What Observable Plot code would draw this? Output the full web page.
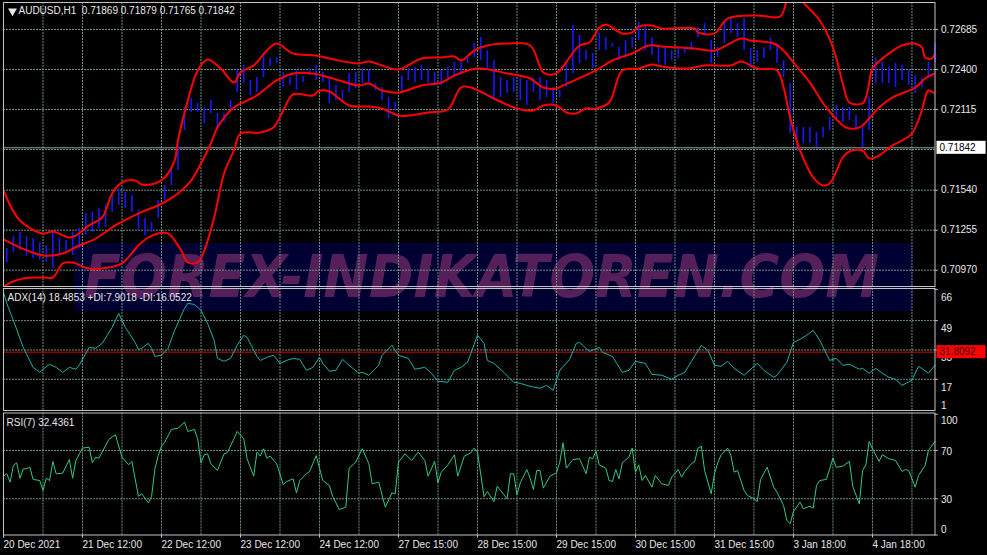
<!DOCTYPE html>
<html><head><meta charset="utf-8">
<script src="https://cdn.jsdelivr.net/npm/d3@7"></script>
<script src="https://cdn.jsdelivr.net/npm/@observablehq/plot@0.6"></script>
<style>
html,body{margin:0;padding:0;background:#000;}
#wrap{position:relative;width:987px;height:555px;overflow:hidden;background:#000;}
#wrap svg{position:absolute;left:0;top:0;}
</style></head><body><div id="wrap"></div>
<script>
// ---------------- DATA ----------------
const symbolHeader = "AUDUSD,H1\u00a0\u00a00.71869 0.71879 0.71765 0.71842";
const adxHeader = "ADX(14) 18.4853 +DI:7.9018 -DI:16.0522";
const rsiHeader = "RSI(7) 32.4361";
const lastClose = 0.71842;
const adxLevel = 31.8092;

const timeLabels = ["20 Dec 2021","21 Dec 12:00","22 Dec 12:00","23 Dec 12:00","24 Dec 12:00","27 Dec 15:00","28 Dec 15:00","29 Dec 15:00","30 Dec 15:00","31 Dec 15:00","3 Jan 18:00","4 Jan 18:00"];
const timeLabelBars = [0,24,48,72,96,120,144,168,192,216,240,264];
const gridBars = [12,24,36,48,60,72,84,96,108,120,132,144,156,168,180,192,204,216,228,240,252,264,276];

const priceTickLabels = [0.72685,0.72400,0.72115,0.71540,0.71255,0.70970];
const priceGridLevels = [0.72685,0.72400,0.72115,0.71830,0.71540,0.71255,0.70970];
const adxTickLabels = [66,49,33,17];
const adxBottomLabel = [1];
const adxGridLevels = [49,33,17];
const rsiTickLabels = [100,70,30,0];
const rsiGridLevels = [70,30];

// price bars: one bar every 2 hours (bar index 1,3,5,...,283)
const barHighs = [
0.71125,0.71210,0.71239,0.71210,0.71196,0.71167,0.71146,0.71239,0.71196,0.71182,
0.71239,0.71267,0.71374,0.71381,0.71410,0.71431,0.71517,0.71552,0.71524,0.71502,
0.71395,0.71338,0.71310,0.71467,0.71573,0.71695,0.71873,0.72129,0.72193,0.72158,
0.72122,0.72179,0.72086,0.72086,0.72179,0.72393,0.72428,0.72322,0.72343,0.72500,
0.72478,0.72485,0.72379,0.72343,0.72393,0.72350,0.72407,0.72428,0.72379,0.72343,
0.72286,0.72250,0.72371,0.72379,0.72407,0.72393,0.72300,0.72272,0.72200,0.72165,
0.72357,0.72407,0.72414,0.72428,0.72393,0.72379,0.72393,0.72414,0.72450,0.72450,
0.72485,0.72585,0.72628,0.72535,0.72464,0.72343,0.72322,0.72343,0.72336,0.72322,
0.72336,0.72343,0.72322,0.72272,0.72250,0.72464,0.72713,0.72642,0.72535,0.72514,
0.72656,0.72628,0.72585,0.72557,0.72607,0.72628,0.72735,0.72713,0.72628,0.72571,
0.72550,0.72535,0.72550,0.72557,0.72592,0.72699,0.72728,0.72607,0.72557,0.72735,
0.72763,0.72728,0.72763,0.72550,0.72535,0.72557,0.72628,0.72585,0.72464,0.72300,
0.71987,0.71987,0.71987,0.71951,0.71987,0.72058,0.72143,0.72129,0.72129,0.72072,
0.71987,0.72200,0.72478,0.72450,0.72414,0.72443,0.72428,0.72393,0.72357,0.72336,
0.72450,0.72585];
const barLows = [
0.71025,0.71096,0.71110,0.71068,0.71053,0.71039,0.71025,0.70982,0.71082,0.71096,
0.71075,0.71125,0.71217,0.71239,0.71267,0.71281,0.71381,0.71431,0.71410,0.71381,
0.71253,0.71217,0.71239,0.71338,0.71467,0.71573,0.71680,0.71965,0.72094,0.72094,
0.72015,0.72086,0.71965,0.72022,0.72108,0.72236,0.72300,0.72215,0.72236,0.72343,
0.72421,0.72443,0.72272,0.72286,0.72250,0.72307,0.72357,0.72322,0.72307,0.72158,
0.72179,0.72179,0.72236,0.72265,0.72300,0.72307,0.72250,0.72179,0.72051,0.72108,
0.72229,0.72322,0.72307,0.72322,0.72300,0.72300,0.72286,0.72336,0.72357,0.72379,
0.72443,0.72485,0.72464,0.72407,0.72179,0.72200,0.72229,0.72236,0.72179,0.72143,
0.72236,0.72179,0.72200,0.72158,0.72200,0.72272,0.72371,0.72443,0.72464,0.72407,
0.72535,0.72535,0.72557,0.72464,0.72485,0.72557,0.72607,0.72535,0.72500,0.72443,
0.72428,0.72464,0.72478,0.72514,0.72535,0.72628,0.72656,0.72443,0.72485,0.72585,
0.72656,0.72628,0.72535,0.72407,0.72450,0.72478,0.72535,0.72443,0.72343,0.71944,
0.71844,0.71873,0.71873,0.71844,0.71916,0.71965,0.72037,0.72022,0.72037,0.71980,
0.71844,0.71965,0.72300,0.72300,0.72300,0.72272,0.72322,0.72286,0.72229,0.72272,
0.72343,0.72450];

// Bollinger bands: [bar index, price]
const bandUpper = [[0,0.71538],[5,0.71324],[12,0.71232],[15,0.71246],[20,0.71203],[22,0.71217],[26,0.71289],[30,0.71346],[33,0.71517],[36,0.71595],[40,0.71609],[42,0.71581],[46,0.71588],[49,0.71631],[52,0.71752],[53,0.71894],[56,0.72179],[59,0.72393],[62,0.72471],[66,0.72407],[70,0.72307],[72,0.72379],[76,0.72429],[80,0.72535],[83,0.72585],[88,0.72514],[95,0.72500],[99,0.72478],[108,0.72443],[111,0.72457],[115,0.72429],[120,0.72400],[127,0.72478],[133,0.72486],[137,0.72493],[139,0.72464],[143,0.72535],[147,0.72571],[153,0.72585],[160,0.72571],[164,0.72379],[167,0.72364],[169,0.72393],[175,0.72571],[178,0.72592],[181,0.72699],[183,0.72721],[188,0.72657],[191,0.72664],[193,0.72706],[197,0.72714],[200,0.72692],[210,0.72692],[211,0.72664],[216,0.72657],[220,0.72763],[229,0.72785],[236,0.72778],[238,0.72892],[240,0.72963],[243,0.72877],[248,0.72749],[252,0.72557],[255,0.72300],[257,0.72165],[261,0.72158],[262,0.72200],[263,0.72300],[264,0.72407],[269,0.72514],[273,0.72571],[277,0.72585],[279,0.72557],[280,0.72486],[282,0.72478],[283,0.72514]];
const bandMiddle = [[0,0.71189],[5,0.71132],[12,0.71075],[18,0.71089],[23,0.71146],[27,0.71182],[35,0.71303],[43,0.71395],[47,0.71431],[53,0.71517],[57,0.71609],[60,0.71730],[63,0.71873],[65,0.71987],[70,0.72129],[74,0.72179],[77,0.72215],[83,0.72322],[88,0.72372],[94,0.72372],[99,0.72343],[108,0.72286],[111,0.72300],[115,0.72250],[120,0.72236],[127,0.72286],[133,0.72307],[137,0.72357],[144,0.72407],[153,0.72372],[160,0.72336],[164,0.72272],[168,0.72265],[170,0.72286],[180,0.72393],[185,0.72464],[191,0.72514],[196,0.72571],[200,0.72564],[210,0.72550],[216,0.72535],[224,0.72621],[227,0.72607],[234,0.72585],[237,0.72535],[240,0.72450],[245,0.72307],[250,0.72129],[256,0.71987],[260,0.71987],[263,0.72051],[266,0.72129],[270,0.72200],[277,0.72272],[280,0.72336],[283,0.72372]];
const bandLower = [[0,0.70847],[1,0.70868],[6,0.70911],[12,0.70918],[15,0.70918],[18,0.71018],[21,0.71025],[26,0.70982],[32,0.70989],[36,0.71018],[41,0.71146],[44,0.71203],[47,0.71232],[50,0.71232],[54,0.71110],[56,0.71025],[59,0.71025],[61,0.71110],[64,0.71346],[67,0.71659],[70,0.71823],[72,0.71944],[78,0.71951],[82,0.71987],[85,0.72108],[88,0.72222],[94,0.72215],[96,0.72250],[99,0.72243],[105,0.72144],[111,0.72136],[115,0.72122],[120,0.72072],[123,0.72072],[129,0.72094],[135,0.72115],[139,0.72272],[142,0.72272],[149,0.72193],[156,0.72122],[161,0.72108],[164,0.72144],[168,0.72144],[171,0.72094],[174,0.72087],[177,0.72122],[180,0.72122],[184,0.72165],[188,0.72393],[193,0.72407],[197,0.72436],[200,0.72421],[208,0.72407],[213,0.72429],[221,0.72429],[224,0.72457],[229,0.72407],[235,0.72393],[237,0.72272],[239,0.72058],[242,0.71823],[246,0.71631],[249,0.71574],[251,0.71588],[255,0.71773],[257,0.71816],[261,0.71823],[263,0.71766],[266,0.71787],[270,0.71858],[273,0.71894],[276,0.71944],[279,0.72108],[280,0.72200],[281,0.72250],[283,0.72229]];

// ADX: [bar index, value]
const adxValues = [[0,64.4],[1,58.4],[3,49.1],[6,34.4],[9,23.5],[11,20.8],[12,22.5],[14,25.2],[16,23.5],[18,20.8],[20,23.5],[22,22.5],[23,24.6],[26,34.4],[28,33.9],[30,36.6],[33,45.3],[35,52.9],[37,45.3],[40,37.1],[41,33.3],[42,33.9],[44,36.6],[45,33.9],[46,29.5],[48,30.1],[50,33.9],[52,43.7],[55,55.7],[56,58.4],[58,57.8],[60,54.6],[62,47.5],[64,38.2],[65,28.4],[67,26.8],[69,28.4],[71,35.5],[73,41],[74,39.9],[77,29.5],[78,27.3],[80,29],[82,30.1],[84,25.7],[86,27.3],[88,28.4],[90,27.9],[92,21.9],[94,23.5],[96,29],[97,25.7],[99,21.4],[101,21.9],[103,27.9],[105,24.6],[108,20.3],[109,20.8],[111,19.2],[114,24.6],[115,30.1],[118,35.5],[120,30.1],[123,28.4],[125,22.5],[128,23.5],[130,20.3],[132,15.9],[135,15.4],[137,21.9],[139,23.5],[141,26.3],[144,41],[146,36.6],[147,27.3],[149,25.7],[152,20.8],[155,15.4],[157,14.8],[160,13.2],[163,12.1],[165,13.7],[167,11],[169,21.9],[172,27.9],[174,36.6],[175,37.1],[178,32.2],[181,34.4],[182,31.7],[185,29.5],[188,20.8],[190,21.9],[192,26.8],[195,25.7],[197,19.7],[200,19.2],[203,17],[205,19.2],[207,20.8],[209,26.8],[212,35.5],[214,32.8],[216,24.6],[218,24.1],[220,26.8],[222,23],[225,19.2],[229,25.7],[231,21.9],[234,18.1],[235,19.2],[238,26.3],[240,37.1],[242,38.8],[244,41],[246,43.7],[248,38.2],[251,27.3],[253,28.4],[255,24.6],[257,25.2],[260,22.5],[261,23],[263,20.3],[265,23],[267,20.3],[269,18.1],[271,17],[273,13.7],[276,16.5],[278,24.1],[281,20.3],[283,24.6]];

// RSI: [bar index, value]
const rsiValues = [[0,48.7],[1,50.7],[2,43.7],[3,57.6],[4,59.8],[5,47],[6,54.8],[7,54.8],[8,56.1],[9,46],[11,45.1],[12,36.9],[13,47],[14,45.1],[15,60.9],[16,50.7],[18,51.2],[20,62.5],[21,47],[22,61.7],[24,71.9],[26,72.7],[27,59.8],[28,64.4],[29,63.6],[32,79.1],[34,83],[36,64.4],[38,58.1],[39,60.9],[41,32.1],[42,34.1],[44,26.7],[45,32.1],[46,54.8],[47,65.8],[48,73.5],[49,76.9],[51,87.4],[53,88.4],[55,93.4],[56,85.7],[58,87.4],[59,79.7],[60,59.8],[61,66.4],[62,67.2],[63,59],[65,53.4],[67,67.2],[68,68.1],[70,79.7],[71,85.7],[73,79.7],[74,63.1],[76,48.7],[77,68.6],[78,65.3],[79,71.4],[80,63.6],[81,65.3],[83,59],[85,41.6],[86,44.3],[88,46.5],[89,34.9],[90,45.1],[92,50.7],[93,52.6],[95,65.8],[97,45.1],[99,41],[100,32.1],[102,21.1],[104,23],[105,55.3],[107,60.3],[109,71.4],[111,59],[112,42.4],[114,43.7],[116,23],[118,34.9],[119,34.1],[120,60.3],[122,67.2],[124,61.7],[126,68.6],[128,61.7],[129,48.7],[131,60.9],[132,43.2],[133,52],[135,58.1],[137,66.4],[138,48.7],[140,65.3],[142,68.1],[143,71.9],[144,68.6],[146,31.7],[147,36],[149,27.7],[150,40.4],[153,30],[154,50.7],[155,50.7],[156,33.3],[157,43.2],[159,54.2],[160,47],[161,37.7],[162,53.4],[163,53.4],[164,38.8],[166,48.7],[168,51.5],[169,60.3],[170,76.4],[171,55.3],[173,62.5],[175,63.1],[177,50.7],[178,64.4],[179,63.1],[180,69.4],[181,58.1],[183,55.3],[184,45.1],[185,44.3],[186,54.2],[187,46.5],[188,59.8],[190,64.4],[191,71.9],[192,52],[193,58.1],[194,45.1],[195,49.3],[197,39.6],[198,49.3],[200,42.4],[202,41],[203,47.9],[205,54.2],[206,47.9],[207,52.6],[209,59],[210,60.9],[211,71.9],[212,73.5],[213,53.4],[215,34.1],[216,50.7],[217,59.8],[218,66.4],[220,71.9],[221,65.8],[222,52],[223,53.4],[225,36.9],[226,32.7],[228,30],[229,27.7],[230,46],[232,56.1],[234,39.6],[235,35.4],[237,24.4],[238,12],[239,9.3],[240,19.5],[242,27.2],[243,21.7],[245,23.9],[246,22.2],[247,41],[248,45.1],[250,46],[252,63.6],[253,56.1],[255,57],[257,60.9],[258,40.4],[260,25.8],[261,53.4],[262,58.1],[263,77.4],[264,71.4],[266,60.9],[267,66.4],[269,63.1],[271,61.7],[273,52.6],[274,54.2],[275,53.4],[277,39.6],[278,49.3],[280,57.6],[281,70],[283,77.4]];

const watermarkText = "FOREX-INDIKATOREN.COM";

// ---------------- STYLE ----------------
const W = 987, H = 555;
const ML = 3, MR = 52.5;
const X_DOMAIN = [0, 283];
const FONT = "'Liberation Sans', Arial, sans-serif";
const GRID = "#6f8f84";
const BORDER = "#c4c4c4";
const TXT = "#e8e8e8";
const DASH = "2,1";
const lastBar = X_DOMAIN[1];

const bars = barHighs.map((h, k) => ({i: 1 + 2 * k, high: h, low: barLows[k]}));

const wrap = document.getElementById("wrap");

// watermark background layer
const bg = d3.create("svg").attr("width", W).attr("height", H);
bg.append("rect").attr("x", 74).attr("y", 243).attr("width", 839).attr("height", 68).attr("fill", "#000033");
bg.append("text").attr("x", 84).attr("y", 297).attr("font-family", "'DejaVu Sans', sans-serif")
  .attr("font-size", 58).attr("font-weight", "bold").attr("font-style", "italic")
  .attr("fill", "#55205a").attr("textLength", 795).attr("lengthAdjust", "spacingAndGlyphs")
  .text(watermarkText);
wrap.appendChild(bg.node());

function panel(marginTop, marginBottom, yDomain, marks) {
  return Plot.plot({
    width: W, height: H, marginLeft: ML, marginRight: MR, marginTop, marginBottom,
    x: {domain: X_DOMAIN, axis: null},
    y: {domain: yDomain, axis: null},
    style: {background: "transparent", color: TXT, fontFamily: FONT, fontSize: "10px", overflow: "visible"},
    marks
  });
}
const vGrid = () => Plot.ruleX(gridBars, {stroke: GRID, strokeDasharray: DASH});
const yTicks = (vals) => Plot.ruleY(vals, {x1: lastBar, x2: lastBar + 1, stroke: BORDER});
const yLabels = (vals, dy, fmt = d => String(d)) =>
  Plot.text(vals, {x: lastBar, y: d => d, text: fmt, dx: 6, dy, textAnchor: "start", fill: TXT});

// ---------- price panel ----------
const pricePlot = panel(2, H - 286, [0.708539, 0.728774], [
  vGrid(),
  Plot.ruleY(priceGridLevels, {stroke: GRID, strokeDasharray: DASH}),
  Plot.ruleY([lastClose], {stroke: "#8fada2"}),
  Plot.ruleX(bars, {x: "i", y1: "low", y2: "high", stroke: "#1818ff", strokeWidth: 1.6}),
  Plot.line(bandUpper, {x: d => d[0], y: d => d[1], stroke: "#ff0000", strokeWidth: 2, curve: "catmull-rom", clip: true}),
  Plot.line(bandMiddle, {x: d => d[0], y: d => d[1], stroke: "#ff0000", strokeWidth: 2, curve: "catmull-rom", clip: true}),
  Plot.line(bandLower, {x: d => d[0], y: d => d[1], stroke: "#ff0000", strokeWidth: 2, curve: "catmull-rom", clip: true}),
  Plot.frame({stroke: BORDER}),
  yTicks(priceTickLabels),
  yLabels(priceTickLabels, 0, d => d3.format(".5f")(d)),
  Plot.dot([0], {frameAnchor: "top-left", dx: 9, dy: 8.5, symbol: "triangle", r: 3.3, fill: TXT, stroke: null, rotate: 180}),
  Plot.text([symbolHeader], {frameAnchor: "top-left", text: d => d, dx: 15, dy: 8.5, lineAnchor: "middle", textAnchor: "start", fill: TXT})
]);
wrap.appendChild(pricePlot);

// ---------- ADX panel ----------
const adxPlot = panel(288, H - 410, [0, 66.5], [
  vGrid(),
  Plot.ruleY(adxGridLevels, {stroke: GRID, strokeDasharray: DASH}),
  Plot.ruleY([adxLevel], {stroke: "#e00000"}),
  Plot.line(adxValues, {x: d => d[0], y: d => d[1], stroke: "#20b2aa", strokeWidth: 1}),
  Plot.frame({stroke: BORDER}),
  yTicks(adxTickLabels),
  yLabels(adxTickLabels, 8),
  yLabels(adxBottomLabel, -3),
  Plot.text([adxHeader], {frameAnchor: "top-left", text: d => d, dx: 4, dy: 9, lineAnchor: "middle", textAnchor: "start", fill: TXT})
]);
wrap.appendChild(adxPlot);

// ---------- RSI panel ----------
const rsiPlot = panel(412.5, H - 534.5, [0, 101], [
  vGrid(),
  Plot.ruleY(rsiGridLevels, {stroke: GRID, strokeDasharray: DASH}),
  Plot.line(rsiValues, {x: d => d[0], y: d => d[1], stroke: "#34c97a", strokeWidth: 1}),
  Plot.frame({stroke: BORDER}),
  yTicks(rsiTickLabels),
  yLabels([rsiTickLabels[0]], 7),
  yLabels([rsiTickLabels[1], rsiTickLabels[2]], 1),
  yLabels([rsiTickLabels[3]], -5.5),
  Plot.ruleX(timeLabelBars, {y1: 0, y2: -2.6, stroke: BORDER}),
  Plot.text(timeLabels, {x: (d, i) => timeLabelBars[i], y: 0, dy: 10, text: d => d, textAnchor: "start", lineAnchor: "middle", fill: TXT}),
  Plot.text([rsiHeader], {frameAnchor: "top-left", text: d => d, dx: 3, dy: 9.5, lineAnchor: "middle", textAnchor: "start", fill: TXT})
]);
wrap.appendChild(rsiPlot);

// value boxes drawn at positions from the plots' own scales
function valueBox(plot, value, label, bgFill, fg) {
  const y = plot.scale("y").apply(value);
  const x = plot.scale("x").apply(lastBar);
  const g = d3.select(plot).append("g").attr("text-anchor", "start");
  g.append("rect").attr("x", x + 2).attr("y", y - 6.5).attr("width", label.length * 6.3 + 5).attr("height", 13).attr("fill", bgFill);
  g.append("text").attr("x", x + 5).attr("y", y).attr("dy", "0.35em").attr("fill", fg).attr("text-anchor", "start")
    .attr("font-family", FONT).attr("font-size", 10).text(label);
}
valueBox(pricePlot, lastClose, d3.format(".5f")(lastClose), "#ffffff", "#000000");
valueBox(adxPlot, adxLevel, String(adxLevel), "#ff0000", "#3a0000");
</script>
</body></html>
